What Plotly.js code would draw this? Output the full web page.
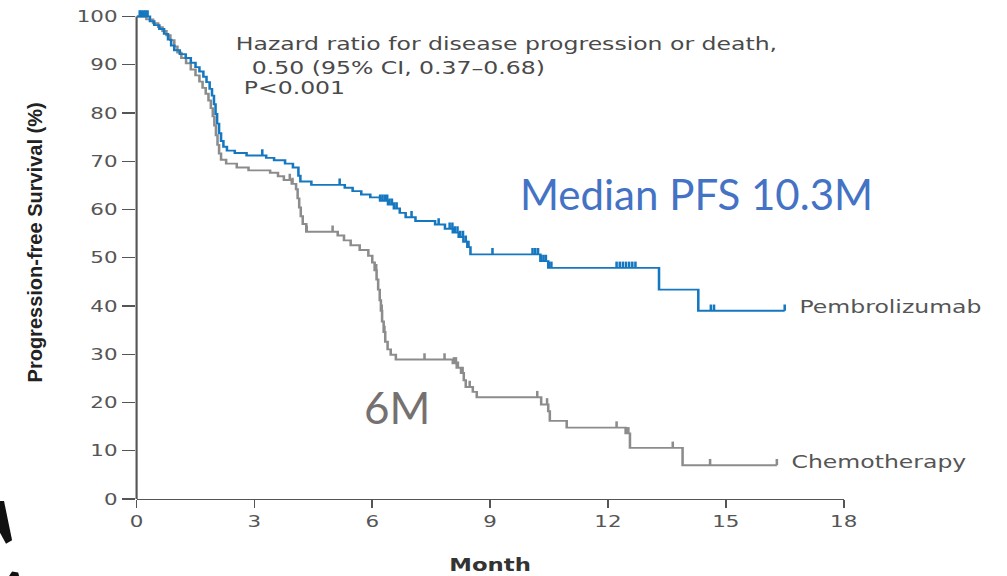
<!DOCTYPE html>
<html>
<head>
<meta charset="utf-8">
<script src="https://cdn.plot.ly/plotly-3.0.1.min.js"></script>
<style>
  html, body { margin: 0; padding: 0; background: #ffffff; overflow: hidden; }
  #wrap { position: relative; width: 1007px; height: 576px; }
  /* the survival figure is laid out narrow and widened horizontally */
  #km { position: absolute; left: 0; top: 0; width: 752px; height: 576px;
        transform: scaleX(1.3391); transform-origin: 0 0; }
  #notes { position: absolute; left: 0; top: 0; width: 1007px; height: 576px; pointer-events: none; }
</style>
</head>
<body>
<div id="wrap">
  <div id="km"></div>
  <div id="notes"></div>
</div>
<script>
// Kaplan-Meier steps: time of each step (months) and progression-free survival (%) after it
const pembroTime = [0, 0.34, 0.45, 0.58, 0.7, 0.8, 0.88, 0.96, 1.1, 1.25, 1.38, 1.5, 1.6, 1.7, 1.78,
  1.86, 1.92, 1.97, 2.01, 2.05, 2.1, 2.15, 2.21, 2.3, 2.5, 2.8, 3.3, 3.5, 3.78, 3.98, 4.12, 4.17,
  4.45, 5.3, 5.5, 5.72, 5.95, 6.2, 6.4, 6.55, 6.7, 6.85, 7.1, 7.6, 7.85, 8.05, 8.2, 8.32, 8.42,
  8.5, 10.28, 10.48, 13.3, 14.3, 16.5];
const pembroPFS = [100, 99.0, 98.2, 97.4, 96.4, 95.2, 94.0, 93.0, 92.2, 91.4, 90.4, 89.5, 88.6, 87.5, 86.4,
  85.0, 83.6, 81.8, 79.8, 77.8, 75.8, 74.2, 73.0, 72.2, 71.7, 71.2, 70.7, 70.2, 69.5, 68.7, 67.0, 65.8,
  65.1, 64.5, 63.8, 63.1, 62.5, 61.8, 61.0, 60.2, 59.3, 58.4, 57.6, 56.9, 56.0, 55.2, 54.3, 53.3, 52.2,
  50.7, 49.3, 47.9, 43.4, 39.0, 39.0];
const pembroCensor = [0.08, 0.13, 0.18, 0.23, 0.28, 3.2, 5.17, 6.2, 6.26, 6.32, 6.38, 6.44, 6.5, 6.56,
  6.62, 7.0, 7.69, 7.97, 8.04, 8.1, 8.17, 8.24, 8.31, 8.38, 8.45, 9.06, 10.08, 10.15, 10.22, 10.3,
  10.36, 10.42, 10.5, 10.56, 12.22, 12.3, 12.38, 12.46, 12.54, 12.62, 12.7, 14.62, 14.7, 16.5];

const chemoTime = [0, 0.25, 0.42, 0.55, 0.66, 0.76, 0.86, 0.96, 1.04, 1.14, 1.26, 1.38, 1.5, 1.6, 1.68,
  1.76, 1.83, 1.89, 1.94, 1.98, 2.02, 2.06, 2.1, 2.15, 2.28, 2.55, 2.85, 3.4, 3.6, 3.75, 3.95, 4.06,
  4.1, 4.14, 4.18, 4.23, 4.32, 5.12, 5.28, 5.45, 5.68, 5.9, 6.0, 6.06, 6.11, 6.15, 6.19, 6.22, 6.25,
  6.29, 6.33, 6.39, 6.47, 6.6, 8.05, 8.15, 8.26, 8.33, 8.38, 8.56, 8.66, 10.3, 10.48, 10.52, 10.95,
  12.45, 12.56, 13.9, 16.3];
const chemoPFS = [100, 99.4, 98.6, 97.8, 97.0, 96.1, 95.1, 93.8, 92.5, 91.4, 90.3, 89.0, 87.8, 86.5, 85.2,
  84.0, 82.6, 81.0, 79.3, 77.4, 75.4, 73.4, 71.6, 70.3, 69.5, 68.7, 68.1, 67.6, 66.9, 66.1, 65.3, 64.2,
  62.3, 60.4, 58.6, 57.0, 55.4, 54.6, 53.6, 52.6, 51.6, 50.4, 49.0, 47.4, 45.5, 43.4, 41.2, 39.0, 36.8,
  34.6, 32.6, 31.0, 29.9, 28.9, 28.1, 27.2, 26.1, 24.6, 23.2, 22.2, 21.1, 19.6, 18.2, 16.2, 14.8,
  13.6, 10.6, 7.0, 7.0];
const chemoCensor = [3.9, 3.97, 4.33, 4.99, 6.1, 6.24, 6.31, 7.33, 7.84, 8.08, 8.13, 8.18, 8.3, 8.48,
  10.2, 10.45, 12.22, 12.47, 12.52, 13.65, 14.6, 16.3];

const xTicks = [0, 3, 6, 9, 12, 15, 18];
const yTicks = [0, 10, 20, 30, 40, 50, 60, 70, 80, 90, 100];

const hazardLines = [
  'Hazard ratio for disease progression or death,',
  '0.50 (95% CI, 0.37\u20130.68)',
  'P<0.001'
];
const armNames = ['Pembrolizumab', 'Chemotherapy'];
const medianNote = 'Median PFS 10.3M';
const chemoMedianNote = '6M';
const yTitle = 'Progression-free Survival (%)';
const xTitle = 'Month';

const BLUE = '#1477c0';
const GREY = '#8c8c8c';
const INK = '#4a4a4a';
const FONT = 'DejaVu Sans, Open Sans, sans-serif';

// survival level in effect at time t (right-continuous step function)
function levelAt(times, values, t) {
  let v = values[0];
  for (let i = 0; i < times.length; i++) {
    if (times[i] <= t) v = values[i]; else break;
  }
  return v;
}

function curve(times, values, color, name) {
  return {
    type: 'scatter', mode: 'lines', name: name,
    x: times, y: values,
    line: { shape: 'hv', color: color, width: 1.9 },
    hoverinfo: 'skip'
  };
}

// censored patients: short upward ticks sitting on the curve
function censorTicks(censor, times, values, color, name) {
  return {
    type: 'scatter', mode: 'markers', name: name + ' censored',
    x: censor, y: censor.map(t => levelAt(times, values, t)),
    marker: { size: 2, color: 'rgba(0,0,0,0)' },
    error_y: { type: 'constant', symmetric: false, value: 1.3, valueminus: 0,
               width: 0, thickness: 1.9, color: color },
    cliponaxis: false,
    hoverinfo: 'skip'
  };
}

const traces = [
  curve(chemoTime, chemoPFS, GREY, armNames[1]),
  censorTicks(chemoCensor, chemoTime, chemoPFS, GREY, armNames[1]),
  curve(pembroTime, pembroPFS, BLUE, armNames[0]),
  censorTicks(pembroCensor, pembroTime, pembroPFS, BLUE, armNames[0])
];

const pembroEnd = pembroTime[pembroTime.length - 1];
const chemoEnd = chemoTime[chemoTime.length - 1];

const kmLayout = {
  width: 752, height: 576,
  margin: { l: 102, r: 122, t: 2, b: 77 },
  paper_bgcolor: '#ffffff', plot_bgcolor: '#ffffff',
  showlegend: false,
  font: { family: FONT, size: 16, color: '#555555' },
  xaxis: {
    range: [0, 18], tickvals: xTicks, ticktext: xTicks.map(String),
    showgrid: false, zeroline: false,
    showline: true, linecolor: '#555555', linewidth: 1.3,
    ticks: 'outside', ticklen: 8, tickwidth: 1.3, tickcolor: '#555555',
    tickfont: { family: FONT, size: 16, color: '#555555' },
    title: { text: xTitle, standoff: 28,
             font: { family: FONT, size: 17, color: '#333333', weight: 'bold' } },
    fixedrange: true
  },
  yaxis: {
    range: [0, 103], tickvals: yTicks, ticktext: yTicks.map(String),
    showgrid: false, zeroline: false, showline: false,
    ticks: 'outside', ticklen: 10, tickwidth: 1.3, tickcolor: '#555555',
    tickfont: { family: FONT, size: 16, color: '#555555' },
    fixedrange: true
  },
  shapes: [
    { type: 'line', xref: 'paper', yref: 'y', x0: 0, x1: 0, y0: 0, y1: 100,
      line: { color: '#555555', width: 1.6 }, layer: 'below' }
  ],
  annotations: [
    { text: hazardLines[0], x: 2.46, y: 94.4, xanchor: 'left', yanchor: 'middle', showarrow: false,
      font: { family: FONT, size: 17.6, color: INK } },
    { text: hazardLines[1], x: 2.86, y: 89.4, xanchor: 'left', yanchor: 'middle', showarrow: false,
      font: { family: FONT, size: 17.6, color: INK } },
    { text: hazardLines[2], x: 2.66, y: 85.1, xanchor: 'left', yanchor: 'middle', showarrow: false,
      font: { family: FONT, size: 17.6, color: INK } },
    { text: armNames[0], x: pembroEnd + 0.32, y: levelAt(pembroTime, pembroPFS, pembroEnd) + 0.8,
      xanchor: 'left', yanchor: 'middle', showarrow: false,
      font: { family: FONT, size: 17.6, color: '#555555' } },
    { text: armNames[1], x: chemoEnd + 0.3, y: levelAt(chemoTime, chemoPFS, chemoEnd) + 0.7,
      xanchor: 'left', yanchor: 'middle', showarrow: false,
      font: { family: FONT, size: 17.6, color: '#555555' } }
  ]
};

// upright overlay: axis title, median notes and the dark edge in the lower-left corner
const notesLayout = {
  width: 1007, height: 576,
  margin: { l: 0, r: 0, t: 0, b: 0 },
  paper_bgcolor: 'rgba(0,0,0,0)', plot_bgcolor: 'rgba(0,0,0,0)',
  showlegend: false,
  xaxis: { visible: false, range: [0, 1], fixedrange: true },
  yaxis: { visible: false, range: [0, 1], fixedrange: true },
  annotations: [
    { text: yTitle, xref: 'paper', yref: 'paper', x: 0.0357, y: 0.579, textangle: -90,
      xanchor: 'center', yanchor: 'middle', showarrow: false,
      font: { family: 'Liberation Sans, Arial, sans-serif', size: 20, color: '#222222', weight: 'bold' } },
    { text: medianNote, xref: 'paper', yref: 'paper', x: 0.6915, y: 0.6635,
      xanchor: 'center', yanchor: 'middle', showarrow: false,
      font: { family: 'Lato, Open Sans, sans-serif', size: 42, color: '#4472c4' } },
    { text: chemoMedianNote, xref: 'paper', yref: 'paper', x: 0.394, y: 0.294,
      xanchor: 'center', yanchor: 'middle', showarrow: false,
      font: { family: 'Lato, Open Sans, sans-serif', size: 44, color: '#767171' } }
  ],
  shapes: [
    { type: 'path', xref: 'paper', yref: 'paper',
      path: 'M 0 0.13 L 0.004 0.13 L 0.012 0.062 L 0.006 0.056 L 0 0.075 Z',
      fillcolor: '#111111', line: { width: 0 } },
    { type: 'path', xref: 'paper', yref: 'paper',
      path: 'M 0.009 0 L 0.012 0.008 L 0.018 0.006 L 0.019 0 Z',
      fillcolor: '#111111', line: { width: 0 } }
  ]
};

const cfg = { staticPlot: true, displayModeBar: false };
Plotly.newPlot('km', traces, kmLayout, cfg);
Plotly.newPlot('notes', [], notesLayout, cfg);
</script>
</body>
</html>
